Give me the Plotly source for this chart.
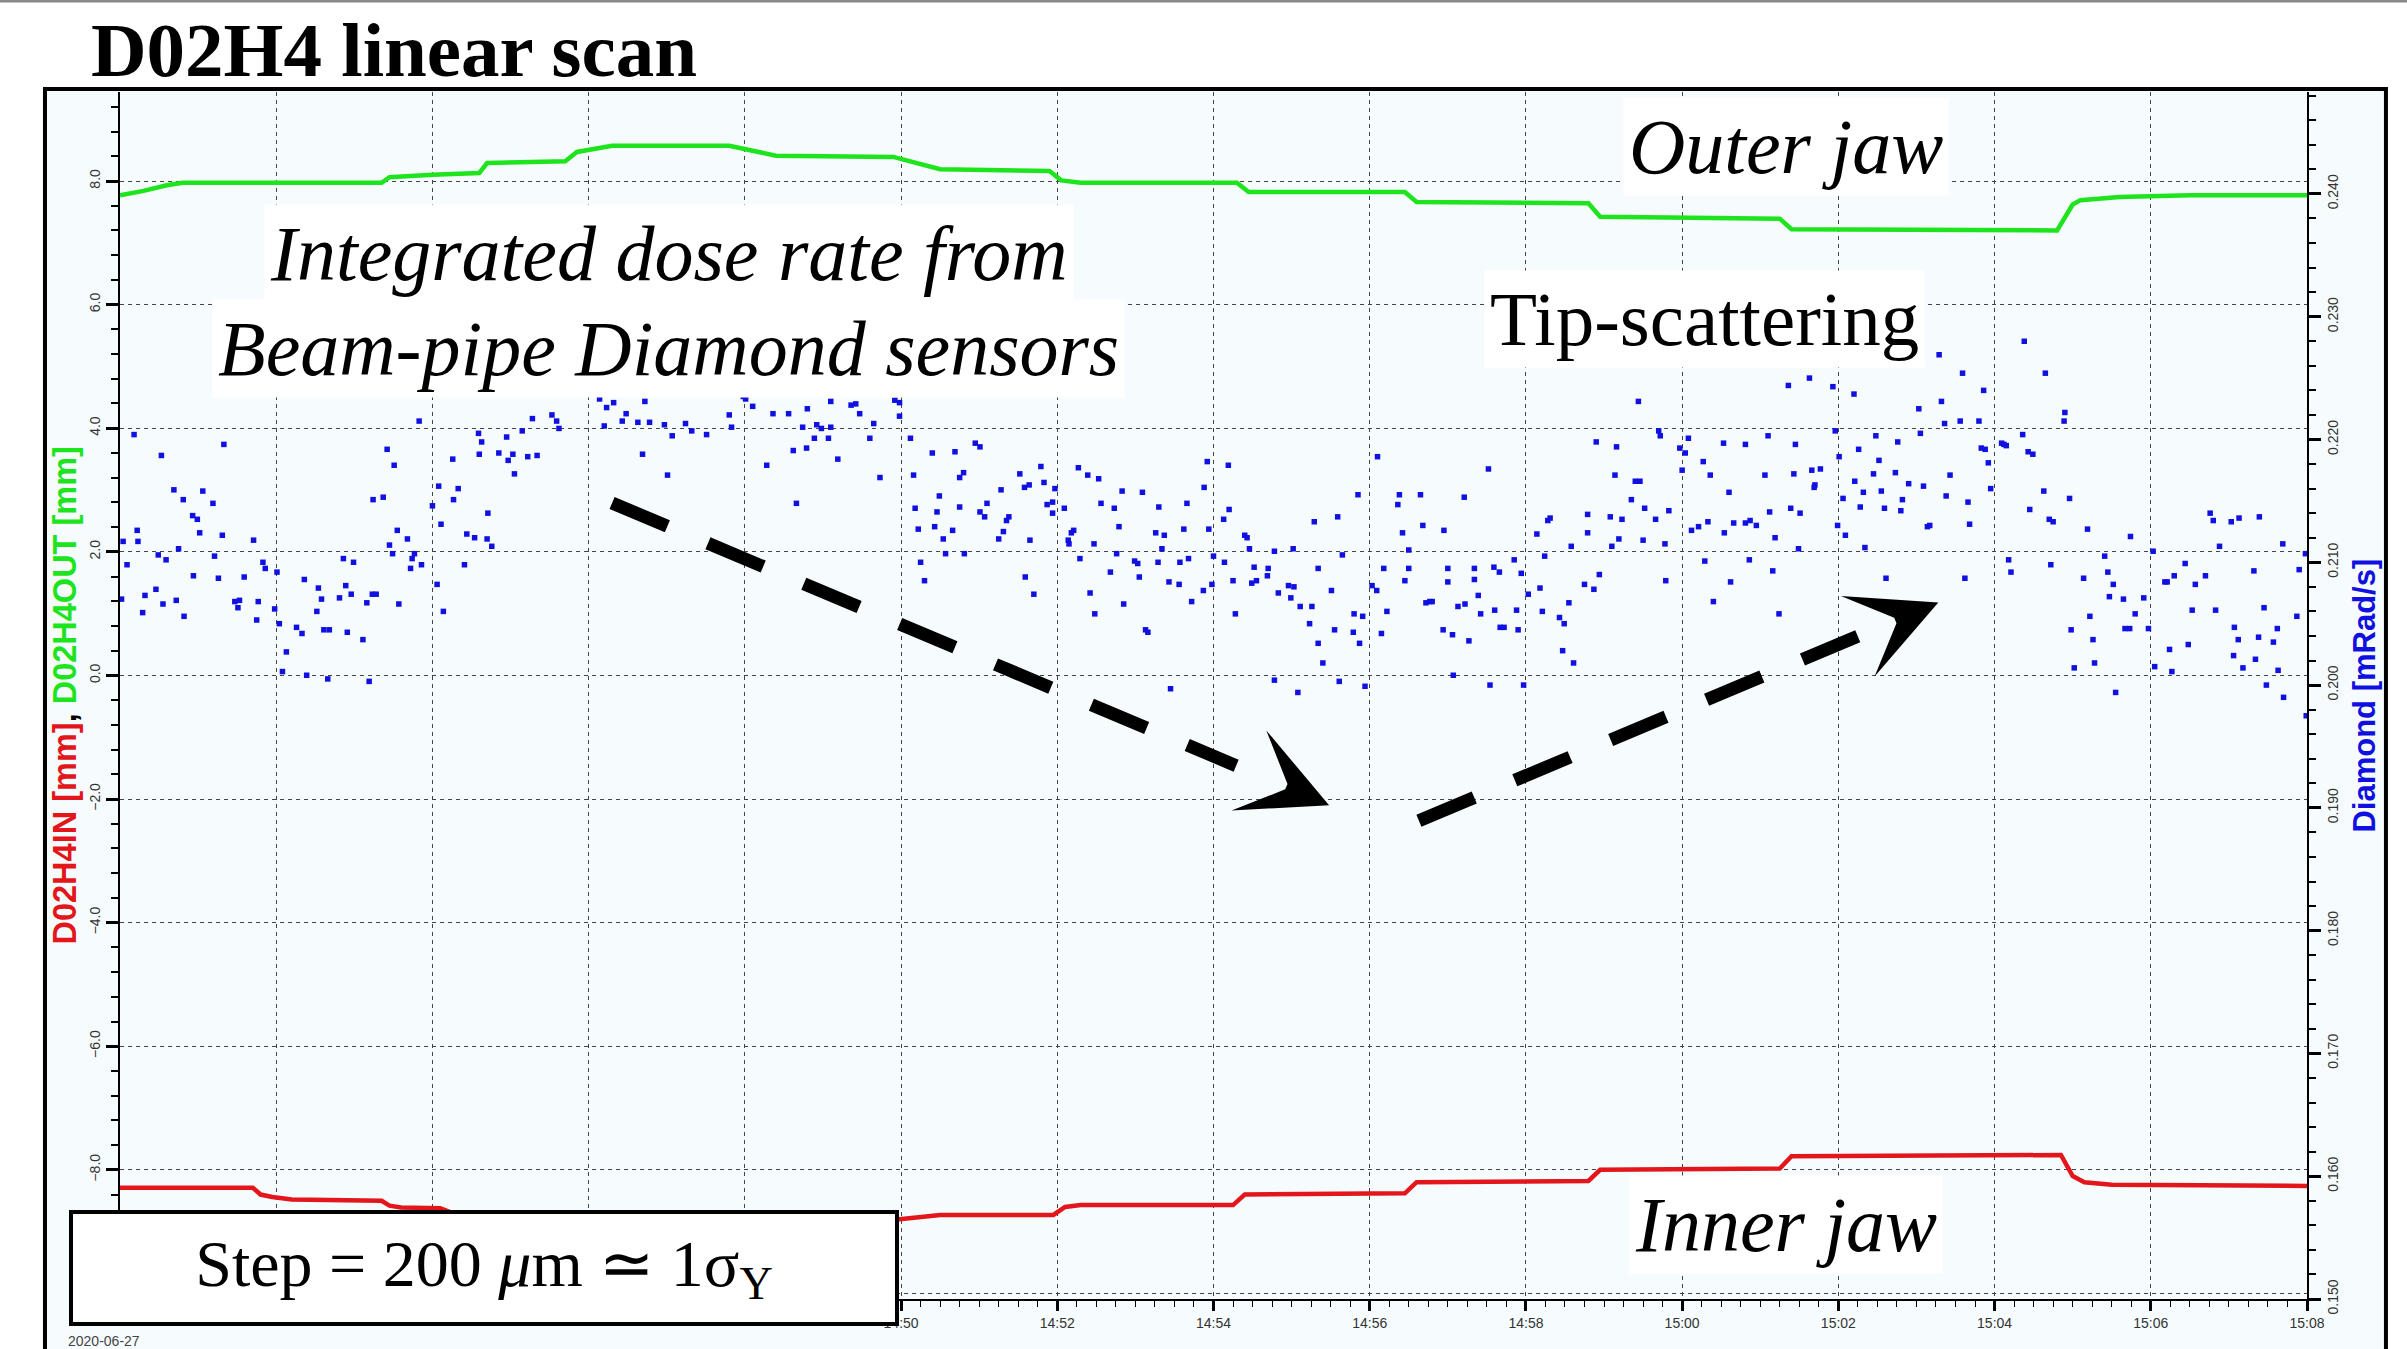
import numpy as np
import pandas as pd
import plotly.graph_objects as go

START = pd.Timestamp("2020-06-27 14:40:00")

# ---------------- data (minutes after 14:40) ----------------
outer_min = [0, 0.3, 0.6, 0.8, 3.35, 3.45, 4.0, 4.6, 4.7, 5.7, 5.85, 6.3, 7.8, 8.05,
             8.4, 9.9, 10.2, 10.5, 11.9, 12.05, 12.3, 14.3, 14.45, 16.45, 16.6, 18.8,
             18.95, 21.25, 21.4, 24.8, 25.0, 25.1, 25.6, 26.5, 28.0]
outer_mm = [7.77, 7.84, 7.93, 7.97, 7.97, 8.06, 8.10, 8.13, 8.29, 8.32, 8.47, 8.57, 8.57, 8.51,
            8.41, 8.39, 8.29, 8.19, 8.16, 8.01, 7.97, 7.97, 7.82, 7.82, 7.66, 7.64,
            7.42, 7.39, 7.22, 7.20, 7.62, 7.69, 7.74, 7.77, 7.77]

inner_min = [0, 1.7, 1.8, 1.95, 2.2, 3.35, 3.45, 3.6, 4.1, 4.3, 5.7, 5.85, 8.0, 8.3, 9.98,
             10.2, 10.5, 11.95, 12.1, 12.3, 14.25, 14.4, 16.45, 16.6, 18.8, 18.95, 21.25,
             21.4, 24.85, 25.0, 25.15, 25.5, 28.0]
inner_mm = [-8.29, -8.29, -8.40, -8.44, -8.48, -8.50, -8.58, -8.61, -8.62, -8.72, -8.72, -8.76,
            -8.76, -8.80, -8.80, -8.77, -8.73, -8.73, -8.60, -8.57, -8.57, -8.40, -8.38, -8.20,
            -8.18, -8.00, -7.98, -7.78, -7.76, -8.10, -8.20, -8.24, -8.26]

diamond_min_a = [0.18, 1.33, 0.53, 0.69, 1.06, 0.81, 1.19, 0.93, 0.99, 0.22, 1.02, 1.31, 0.04, 0.23,
                 1.71, 0.75, 0.49, 0.59, 1.21, 1.83, 1.86, 0.09, 0.94, 1.26, 1.59, 2.01, 0.46, 0.32,
                 0.72, 0.02, 0.55, 1.47, 1.53, 1.51, 1.77, 0.29, 0.82, 1.75, 1.98, 2.04, 2.26, 2.33,
                 2.36, 2.54, 2.58, 2.52, 2.89, 2.96, 2.86, 2.99, 2.81, 3.16, 3.23, 3.28, 2.61, 2.68,
                 2.91, 3.11, 2.13, 2.08, 2.39, 2.66, 3.19, 3.57, 3.42, 3.51, 3.24, 3.37, 3.55, 3.68,
                 3.45, 3.49, 3.77, 3.74, 3.86, 3.72, 4.06, 4.14, 4.00, 4.08, 4.33, 4.27, 4.11, 4.44,
                 4.54, 4.70, 4.76, 4.41, 4.71, 4.26, 3.83, 4.59, 4.95, 4.60, 4.63, 4.85, 5.03, 4.97,
                 5.05, 5.22, 5.34, 5.15, 5.28, 5.53, 5.59, 5.62, 5.88, 6.14, 6.23, 6.32, 6.31, 6.20,
                 6.43, 6.48, 6.63, 6.78, 6.72, 6.97, 7.07, 6.69, 7.01, 7.18, 7.26, 7.24, 7.32, 7.51,
                 7.46, 7.53, 7.80, 7.83, 7.98, 8.01, 8.10, 8.34, 8.36, 8.56, 8.54, 8.80, 8.74, 8.92,
                 8.98, 9.10, 8.89, 9.07, 9.01, 9.10, 9.28, 8.62, 8.79, 8.28, 9.19, 8.66, 9.36]
diamond_val_a = [0.2204, 0.2196, 0.2187, 0.2159, 0.2158, 0.2151, 0.2148, 0.2138, 0.2135, 0.2126, 0.2124,
                 0.2122, 0.2117, 0.2117, 0.2118, 0.2111, 0.2106, 0.2102, 0.2105, 0.2100, 0.2095, 0.2098,
                 0.2089, 0.2087, 0.2088, 0.2092, 0.2078, 0.2073, 0.2069, 0.2070, 0.2066, 0.2068, 0.2069,
                 0.2063, 0.2068, 0.2059, 0.2056, 0.2053, 0.2062, 0.2050, 0.2047, 0.2042, 0.2086, 0.2079,
                 0.2070, 0.2060, 0.2081, 0.2074, 0.2103, 0.2100, 0.2071, 0.2067, 0.2074, 0.2074, 0.2045,
                 0.2045, 0.2043, 0.2037, 0.2027, 0.2011, 0.2008, 0.2005, 0.2003, 0.2066, 0.2192, 0.2179,
                 0.2151, 0.2153, 0.2126, 0.2119, 0.2114, 0.2107, 0.2107, 0.2103, 0.2098, 0.2095, 0.2082,
                 0.2060, 0.2146, 0.2162, 0.2160, 0.2151, 0.2131, 0.2123, 0.2120, 0.2119, 0.2113, 0.2098,
                 0.2140, 0.2184, 0.2215, 0.2205, 0.2202, 0.2188, 0.2198, 0.2189, 0.2188, 0.2183, 0.2172,
                 0.2186, 0.2187, 0.2207, 0.2217, 0.2220, 0.2215, 0.2209, 0.2241, 0.2233, 0.2226, 0.2230,
                 0.2238, 0.2211, 0.2215, 0.2221, 0.2214, 0.2214, 0.2231, 0.2212, 0.2203, 0.2188, 0.2171,
                 0.2238, 0.2237, 0.2213, 0.2207, 0.2204, 0.2239, 0.2241, 0.2220, 0.2210, 0.2235, 0.2233,
                 0.2227, 0.2237, 0.2221, 0.2221, 0.2241, 0.2225, 0.2210, 0.2212, 0.2209, 0.2210, 0.2201,
                 0.2201, 0.2239, 0.2231, 0.2239, 0.2191, 0.2193, 0.2179, 0.2184, 0.2148, 0.2228]

diamond_min_b = [9.42, 9.47, 9.65, 9.60, 9.92, 9.98, 9.98, 9.94, 9.73, 10.12, 10.16, 10.40, 10.69, 10.95,
                 11.01, 10.80, 10.75, 10.18, 10.49, 10.46, 10.75, 10.22, 10.43, 10.66, 10.54, 10.57,
                 10.81, 10.25, 10.30, 11.01, 11.07, 11.10, 11.28, 11.38, 11.35, 11.31, 11.25, 11.52,
                 11.58, 11.64, 11.79, 11.83, 11.87, 11.94, 11.97, 11.94, 12.09, 11.65, 11.59, 11.70,
                 12.14, 12.18, 12.21, 12.15, 12.29, 12.27, 12.39, 12.53, 12.56, 12.73, 12.83, 13.09,
                 12.79, 12.47, 12.76, 12.68, 12.42, 12.48, 12.85, 12.99, 13.03, 13.05, 13.13, 13.16,
                 13.26, 13.37, 13.34, 13.30, 13.29, 13.43, 13.56, 13.57, 13.68, 13.62, 13.66, 13.72,
                 13.87, 13.88, 13.92, 14.19, 13.94, 14.13, 14.20, 14.00, 14.14, 13.98, 14.25, 14.28,
                 14.40, 14.43, 14.46, 14.52, 14.55, 14.49, 14.70, 14.69, 14.78, 15.02, 14.83, 14.96,
                 15.03, 14.99, 15.11, 15.26, 15.23, 15.34, 15.29, 15.59, 15.65, 15.51, 15.85, 16.10,
                 16.03, 16.09, 16.18, 16.22, 15.80, 15.91, 15.79, 15.55, 15.34, 15.40, 15.87, 16.15,
                 15.61, 15.94, 14.78, 15.08, 13.45, 16.36, 16.38, 16.65, 16.42, 16.68, 16.50, 16.95,
                 16.50, 16.45, 16.72, 16.77, 16.80, 17.00, 17.00, 16.94, 17.06, 17.13, 17.22, 17.27,
                 17.07, 17.21, 17.52, 17.34, 17.34, 17.39, 17.42, 17.59, 17.66, 17.85, 17.94, 17.60,
                 17.67, 17.72, 17.90, 17.88, 17.54, 17.97, 18.03, 18.18, 18.21, 18.14, 18.24, 18.28,
                 18.31, 18.58, 18.75, 18.55, 18.43, 18.49, 18.47, 18.61, 18.79, 18.79]
diamond_val_b = [0.2229, 0.2221, 0.2213, 0.2201, 0.2232, 0.2230, 0.2219, 0.2241, 0.2169, 0.2201, 0.2171,
                 0.2189, 0.2190, 0.2197, 0.2194, 0.2173, 0.2169, 0.2144, 0.2154, 0.2141, 0.2145, 0.2127,
                 0.2129, 0.2126, 0.2119, 0.2107, 0.2107, 0.2100, 0.2085, 0.2141, 0.2137, 0.2148, 0.2159,
                 0.2137, 0.2134, 0.2125, 0.2119, 0.2172, 0.2161, 0.2163, 0.2178, 0.2165, 0.2147, 0.2149,
                 0.2160, 0.2140, 0.2144, 0.2118, 0.2088, 0.2074, 0.2118, 0.2124, 0.2126, 0.2115, 0.2103,
                 0.2177, 0.2171, 0.2168, 0.2148, 0.2144, 0.2158, 0.2157, 0.2129, 0.2115, 0.2107, 0.2092,
                 0.2075, 0.2058, 0.2066, 0.2101, 0.2099, 0.2088, 0.2045, 0.2043, 0.2124, 0.2122, 0.2111,
                 0.2145, 0.2100, 0.2084, 0.2082, 0.2100, 0.2103, 0.2127, 0.2148, 0.2068, 0.2077, 0.2161,
                 0.2182, 0.2179, 0.2127, 0.2135, 0.2143, 0.2105, 0.2100, 0.2082, 0.2085, 0.2058, 0.2122,
                 0.2120, 0.2111, 0.2096, 0.2085, 0.2083, 0.2095, 0.2089, 0.2109, 0.2111, 0.2075, 0.2081,
                 0.2080, 0.2071, 0.2064, 0.2064, 0.2050, 0.2095, 0.2133, 0.2137, 0.2106, 0.2077, 0.2155,
                 0.2186, 0.2081, 0.2077, 0.2095, 0.2060, 0.2058, 0.2056, 0.2043, 0.2045, 0.2034, 0.2018,
                 0.2034, 0.2042, 0.2003, 0.1999, 0.2004, 0.1994, 0.1997, 0.2147, 0.2155, 0.2155, 0.2124,
                 0.2130, 0.2110, 0.2126, 0.2095, 0.2085, 0.2067, 0.2068, 0.2068, 0.2095, 0.2084, 0.2045,
                 0.2041, 0.2064, 0.2066, 0.2036, 0.2008, 0.2153, 0.2176, 0.2095, 0.2086, 0.2073, 0.2058,
                 0.2096, 0.2092, 0.2102, 0.2091, 0.2061, 0.2047, 0.2047, 0.2045, 0.2061, 0.2000, 0.2000,
                 0.2074, 0.2079, 0.2060, 0.2123, 0.2105, 0.2134, 0.2136, 0.2113, 0.2082, 0.2067, 0.2055,
                 0.2050, 0.2028, 0.2018, 0.2139, 0.2124]

diamond_min_c = [18.90, 19.16, 19.44, 19.14, 19.40, 19.46, 19.70, 19.72, 19.97, 20.04, 20.08, 20.00,
                 19.35, 19.52, 19.66, 19.83, 19.08, 19.23, 19.19, 19.50, 19.10, 19.78, 18.94, 18.87,
                 19.79, 20.27, 20.36, 20.53, 20.81, 21.10, 21.06, 21.45, 21.43, 21.36, 21.63, 21.93,
                 22.20, 21.96, 21.66, 21.77, 21.70, 21.69, 20.60, 20.12, 20.21, 20.33, 20.54, 20.66,
                 20.81, 20.87, 20.95, 21.12, 21.19, 21.39, 21.51, 21.49, 20.29, 20.86, 21.16, 20.62,
                 20.40, 21.24, 22.01, 22.06, 21.99, 22.09, 22.26, 22.21, 22.32, 22.28, 22.45, 22.48,
                 22.52, 22.55, 22.59, 22.73, 22.76, 22.90, 22.82, 22.80, 22.34, 22.61, 23.03, 23.05,
                 23.09, 23.14, 23.17, 23.29, 23.32, 23.36, 23.56, 23.59, 23.80, 23.86, 23.38, 23.43,
                 23.66, 23.68, 23.62, 23.83, 23.88, 23.92, 23.95, 24.09, 24.12, 24.15, 24.36, 24.43,
                 24.49, 24.38, 24.65, 24.90, 24.89, 24.63, 24.96, 24.45, 24.70, 24.75, 25.19, 24.18,
                 24.21, 24.72, 25.14, 25.41, 25.45, 25.52, 25.47, 25.65, 25.91, 25.80, 25.67, 25.73,
                 25.97, 25.22, 25.26, 24.98, 25.28, 25.02, 25.55, 25.74, 26.03, 26.18, 26.21, 26.30,
                 26.44, 26.57, 26.70, 26.24, 26.48, 26.53, 26.83, 26.88, 26.76, 26.80, 27.03, 27.13,
                 27.39, 27.69, 27.32, 27.45, 27.07, 27.12, 27.38, 27.57, 27.62, 27.87, 27.90, 27.06,
                 27.18, 27.34, 27.48, 27.63, 27.70, 26.05, 26.27, 27.99, 27.98]
diamond_val_c = [0.2198, 0.2194, 0.2231, 0.2171, 0.2166, 0.2166, 0.2207, 0.2203, 0.2193, 0.2189, 0.2201,
                 0.2175, 0.2151, 0.2144, 0.2135, 0.2142, 0.2137, 0.2135, 0.2119, 0.2118, 0.2113, 0.2115,
                 0.2090, 0.2078, 0.2085, 0.2182, 0.2171, 0.2197, 0.2196, 0.2203, 0.2171, 0.2196, 0.2172,
                 0.2244, 0.2250, 0.2243, 0.2237, 0.2207, 0.2175, 0.2176, 0.2163, 0.2161, 0.2157, 0.2126,
                 0.2129, 0.2133, 0.2124, 0.2132, 0.2132, 0.2134, 0.2130, 0.2141, 0.2120, 0.2144, 0.2140,
                 0.2111, 0.2101, 0.2102, 0.2093, 0.2084, 0.2068, 0.2058, 0.2186, 0.2152, 0.2130, 0.2122,
                 0.2192, 0.2166, 0.2157, 0.2145, 0.2172, 0.2203, 0.2183, 0.2158, 0.2144, 0.2173, 0.2198,
                 0.2164, 0.2151, 0.2142, 0.2112, 0.2087, 0.2225, 0.2205, 0.2162, 0.2129, 0.2130, 0.2269,
                 0.2231, 0.2213, 0.2215, 0.2254, 0.2215, 0.2240, 0.2154, 0.2171, 0.2149, 0.2131, 0.2087,
                 0.2193, 0.2192, 0.2181, 0.2160, 0.2197, 0.2196, 0.2195, 0.2204, 0.2190, 0.2188, 0.2280,
                 0.2254, 0.2222, 0.2215, 0.2158, 0.2152, 0.2143, 0.2135, 0.2133, 0.2127, 0.2102, 0.2092,
                 0.2098, 0.2087, 0.2105, 0.2092, 0.2082, 0.2072, 0.2070, 0.2071, 0.2058, 0.2046, 0.2046,
                 0.2046, 0.2056, 0.2037, 0.2045, 0.2018, 0.2014, 0.1994, 0.2121, 0.2109, 0.2084, 0.2084,
                 0.2089, 0.2099, 0.2082, 0.2089, 0.2029, 0.2033, 0.2061, 0.2061, 0.2113, 0.2140, 0.2134,
                 0.2133, 0.2136, 0.2137, 0.2115, 0.2093, 0.2063, 0.2047, 0.2037, 0.2039, 0.2035, 0.2046,
                 0.2056, 0.2094, 0.2024, 0.2014, 0.2021, 0.2000, 0.2012, 0.1990, 0.2015, 0.2011, 0.1975,
                 0.2107]

# x ticks every 2 minutes; the first labels are hidden behind the "Step" box in the original
x_tick_min = [0, 2, 4, 6, 8, 10, 12, 14, 16, 18, 20, 22, 24, 26, 28]
x_tick_text = ["", "", "", "", "", "14:50", "14:52", "14:54", "14:56", "14:58",
               "15:00", "15:02", "15:04", "15:06", "15:08"]
x_minor_step_ms = 15000


def ts(m):
    return (START + pd.Timedelta(minutes=float(m))).strftime("%Y-%m-%d %H:%M:%S.%f")


def ts_list(ms):
    return [ts(m) for m in ms]


diamond_min = diamond_min_a + diamond_min_b + diamond_min_c
diamond_val = diamond_val_a + diamond_val_b + diamond_val_c

GREEN = "#1de41d"
RED = "#e3171b"
BLUE = "#1010e0"
TINT = "#f6fbfd"
SERIF = "Liberation Serif, Times New Roman, serif"
SANS = "Liberation Sans, Arial, sans-serif"

fig = go.Figure()
fig.add_trace(go.Scatter(x=ts_list(outer_min), y=outer_mm, mode="lines",
                         line=dict(color=GREEN, width=4.5), showlegend=False))
fig.add_trace(go.Scatter(x=ts_list(inner_min), y=inner_mm, mode="lines",
                         line=dict(color=RED, width=4.5), showlegend=False))
fig.add_trace(go.Scatter(x=ts_list(diamond_min), y=diamond_val, mode="markers", yaxis="y2",
                         marker=dict(symbol="square", size=5.5, color=BLUE, line=dict(width=0)),
                         showlegend=False))

tickfont = dict(family=SANS, size=14, color="#333333")
grid = dict(showgrid=True, gridcolor="#444444", gridwidth=1.3, griddash="4px,4px")
tickstyle = dict(ticks="outside", ticklen=12, tickwidth=3, tickcolor="black",
                 showline=True, linecolor="black", linewidth=2, zeroline=False, tickfont=tickfont)

fig.update_layout(
    width=2407, height=1349, autosize=False,
    margin=dict(l=120, r=100, t=92, b=50, pad=0),
    paper_bgcolor="white", plot_bgcolor=TINT, showlegend=False,
    xaxis=dict(type="date", range=[ts(0), ts(28)], tickmode="array",
               tickvals=ts_list(x_tick_min), ticktext=x_tick_text,
               **grid, **dict(tickstyle, ticklen=10, tickwidth=2.5),
               minor=dict(tick0=ts(0), dtick=x_minor_step_ms, ticks="outside", ticklen=6,
                          tickwidth=1.2, tickcolor="black", showgrid=False)),
    yaxis=dict(range=[-10.09, 9.44], tick0=0, dtick=2, tickformat=".1f", tickangle=-90,
               **grid, **tickstyle,
               minor=dict(dtick=0.4, ticks="outside", ticklen=7, tickwidth=1.5,
                          tickcolor="black", showgrid=False)),
    yaxis2=dict(overlaying="y", side="right", range=[0.150, 0.2483], tick0=0.15, dtick=0.01,
                tickformat=".3f", tickangle=-90, showgrid=False, **tickstyle,
                minor=dict(dtick=0.002, ticks="outside", ticklen=7, tickwidth=1.5,
                           tickcolor="black", showgrid=False)),
)

# outer frame and top border line
fig.add_shape(type="rect", xref="paper", yref="paper", x0=-0.0343, x1=1.0361, y0=-0.2, y1=1.0025,
              line=dict(color="black", width=4), fillcolor=TINT, layer="below")
fig.add_shape(type="line", xref="paper", yref="paper", x0=-0.06, x1=1.05, y0=1.0754, y1=1.0754,
              line=dict(color="#8a8a8a", width=3), layer="below")

# dashed arrows (shaft as dashed line, head as annotation arrow)
arrow_dash = "60px,44px"
fig.add_shape(type="line", xref="x", yref="y", x0=ts(6.30), y0=2.79, x1=ts(14.29), y1=-1.46,
              line=dict(color="black", width=13, dash=arrow_dash), layer="above")
fig.add_shape(type="line", xref="x", yref="y", x0=ts(16.63), y0=-2.35, x1=ts(22.28), y1=0.65,
              line=dict(color="black", width=13, dash=arrow_dash), layer="above")
for tip_x, tip_y, tail_x, tail_y in [(15.48, -2.10, 14.95, -1.81), (23.28, 1.18, 22.75, 0.90)]:
    fig.add_annotation(x=ts(tip_x), y=tip_y, ax=ts(tail_x), ay=tail_y, xref="x", yref="y",
                       axref="x", ayref="y", text="", showarrow=True, arrowhead=3, arrowsize=1.12,
                       arrowwidth=13, arrowcolor="black", standoff=0)

# title
fig.add_annotation(xref="paper", yref="paper", x=-0.0142, y=1.0352, xanchor="left", yanchor="middle",
                   text="<b>D02H4 linear scan</b>", showarrow=False,
                   font=dict(family=SERIF, size=77, color="black"))


# text annotations on white background
def label(text, x, y, size=78):
    fig.add_annotation(xref="paper", yref="paper", x=x, y=y, xanchor="center", yanchor="middle",
                       text=text, showarrow=False, bgcolor="white", borderpad=5,
                       font=dict(family=SERIF, size=size, color="black"))


label("<i>Outer jaw</i>", 0.7618, 0.9548)
label("<i>Integrated dose rate from</i>", 0.2510, 0.8658)
label("<i>Beam-pipe Diamond sensors</i>", 0.2510, 0.7875)
label("Tip-scattering", 0.7243, 0.8123, size=77)
label("<i>Inner jaw</i>", 0.7618, 0.0621)

# step box
fig.add_annotation(xref="paper", yref="paper", x=0.1664, y=0.0257, xanchor="center", yanchor="middle",
                   text="Step = 200 <i>\u03bc</i>m \u2243 1\u03c3<sub>Y</sub>", showarrow=False,
                   bgcolor="white", bordercolor="black", borderwidth=4, borderpad=0,
                   width=822, height=108, align="center",
                   font=dict(family=SERIF, size=66, color="black"))

# axis titles
fig.add_annotation(xref="paper", yref="paper", x=-0.0256, y=0.5, xanchor="center", yanchor="middle",
                   textangle=-90, showarrow=False,
                   text=f"<b><span style='color:{RED}'>D02H4IN [mm]</span>, "
                        f"<span style='color:{GREEN}'>D02H4OUT [mm]</span></b>",
                   font=dict(family=SANS, size=32.5, color="black"))
fig.add_annotation(xref="paper", yref="paper", x=1.0261, y=0.5, xanchor="center", yanchor="middle",
                   textangle=-90, showarrow=False, text="<b>Diamond [mRad/s]</b>",
                   font=dict(family=SANS, size=31, color=BLUE))

# date label
fig.add_annotation(xref="paper", yref="paper", x=-0.0247, y=-0.0348, xanchor="left", yanchor="middle",
                   text="2020-06-27", showarrow=False, font=dict(family=SANS, size=14, color="#444444"))

fig.write_html("out.html")
